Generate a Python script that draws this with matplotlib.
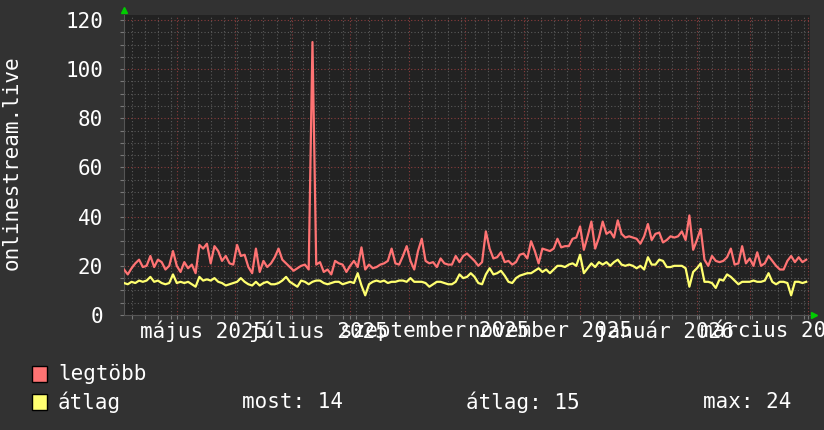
import pandas as pd
import matplotlib.pyplot as plt
import matplotlib.dates as mdates
from matplotlib.patches import Rectangle

# --- data (one point every 2 days) ---
start_date = '2025-04-03'
step_days = 2

legtobb = [
    18.5, 16.5, 19, 21, 22.5, 19.5, 20, 24, 19.5, 22.5, 21.5, 18.5, 20, 26, 20, 17.5,
    21.5, 19, 20.5, 17, 28.5, 27, 29, 21, 28, 26,
    22, 24, 21, 20.5, 28.5, 24, 24.5, 19.5, 17, 27, 17.5, 22, 19.5, 21, 23.5, 27,
    22.5, 21, 19.5, 18, 19, 20, 20.5, 18.5, 111, 20.5, 21.5,
    17.5, 18.5, 16.5, 22, 21, 20.5, 17.5, 20, 22, 19.5, 27.5, 18.5, 20.5, 19, 19.5,
    20.5, 21, 22, 27, 21, 20.5, 24, 28, 22, 18.5, 26,
    31, 22, 21, 21.5, 19.5, 23, 21, 20.5, 20.5, 24, 21.5, 24, 25, 23.5, 22, 20,
    21.5, 34, 27, 23, 23.5, 25.5, 21.5, 22, 20.5, 21.5, 24.5,
    25, 23, 30, 26, 21, 27, 26.5, 26, 27, 31, 27.5, 28, 28, 31, 31.5, 36, 26.5,
    32, 38, 27, 31.5, 38, 33, 34, 31.5, 38.5,
    33, 31.5, 32, 31.5, 31, 29, 32, 37, 30.5, 33, 33.5, 29.5, 30.5, 32, 31.5, 32,
    34, 30.5, 40.5, 26.5, 30.5, 35, 22.5, 20, 24, 22, 21.5,
    22, 23.5, 27, 20.5, 21, 28, 21, 23, 20, 25.5, 20, 21, 24, 22, 20, 18.5, 18.5,
    22, 24, 21.5, 23.5, 21.5, 22.5,
]

atlag = [
    13, 12.5, 13.5, 13, 14, 13.5, 14, 15.5, 13.5, 14, 13, 12.5, 13, 16.5, 13, 13.5,
    13, 13.5, 12.5, 11.5, 15.5, 14, 14.5, 14, 15, 13.5,
    13, 12, 12.5, 13, 13.5, 15, 13.5, 12.5, 12, 13.5, 12, 13, 13.5, 12.5, 12.5, 13,
    14, 15.5, 13.5, 12.5, 11.5, 14, 13.5, 12.5, 13.5, 14, 14,
    13, 12.5, 13, 13.5, 13.5, 12.5, 13, 13.5, 13, 17, 12, 8, 12.5, 13.5, 14, 13.5,
    14, 13, 13.5, 13.5, 14, 14, 13.5, 15, 13.5, 13.5,
    13.5, 13, 11.5, 12.5, 13.5, 13.5, 13, 12.5, 12.5, 13.5, 16.5, 15, 15.5, 17,
    15.5, 13, 12.5, 16.5, 19, 16.5, 17, 18, 16, 13.5, 13, 15, 16,
    16.5, 17, 17, 18, 19, 17.5, 18.5, 17, 18.5, 20, 20, 19.5, 20.5, 21, 20, 24.5,
    17, 19, 21, 19.5, 21.5, 20.5, 21.5, 20, 21.5, 22.5,
    20.5, 20, 20.5, 20, 19, 20, 18.5, 23.5, 20.5, 20.5, 22.5, 22, 19.5, 19.5, 20,
    20, 20, 19, 11.5, 17.5, 19, 21, 13.5, 13.5, 13, 11, 14.5,
    14, 16.5, 15.5, 14, 12.5, 13.5, 13.5, 13.5, 14, 13.5, 13.5, 14, 17, 13.5, 12.5,
    13.5, 13.5, 13, 8, 13.5, 13.5, 13, 13.5,
]

x_label_dates = ['2025-05-15', '2025-07-15', '2025-09-15', '2025-11-15', '2026-01-15', '2026-03-15']
x_label_texts = ['május 2025', 'július 2025', 'szeptember 2025', 'november 2025',
                 'január 2026', 'március 2026']
y_ticks = [0, 20, 40, 60, 80, 100, 120]

legend_names = ['legtöbb', 'átlag']
stat_texts = ['most: 14', 'átlag: 15', 'max: 24']

RED = '#ff7373'
YELLOW = '#ffff70'
MONO = 'DejaVu Sans Mono'


def plot_chart():
    dates = pd.date_range(start_date, periods=len(legtobb), freq=f'{step_days}D')

    W, H = 824, 430
    fig = plt.figure(figsize=(W / 100, H / 100), dpi=100, facecolor='#323232')
    # plot area in pixel terms: x 124..810, y 15..315
    ax = fig.add_axes([124 / W, 1 - 315 / H, 686 / W, 300 / H])
    ax.set_facecolor('#222222')

    ax.plot(dates, legtobb, color=RED, linewidth=1.6, zorder=3)
    ax.plot(dates, atlag, color=YELLOW, linewidth=1.6, zorder=4)

    ax.set_xlim(pd.Timestamp('2025-04-03'), pd.Timestamp('2026-04-02'))
    ax.set_ylim(0, 122)

    # grid like rrdtool: dotted gray minor, dotted red major
    ax.set_yticks(y_ticks)
    ax.set_yticks(range(0, 121, 5), minor=True)
    ax.xaxis.set_major_locator(mdates.MonthLocator())
    ax.xaxis.set_minor_locator(mdates.WeekdayLocator(byweekday=mdates.MO))
    ax.xaxis.set_major_formatter(plt.NullFormatter())
    ax.grid(which='minor', color='#5a5a5a', linestyle=(0, (1, 2)), linewidth=0.8)
    ax.grid(which='major', color='#8a3c3c', linestyle=(0, (1, 2)), linewidth=0.8)
    ax.set_axisbelow(True)

    ax.tick_params(which='both', colors='#777777', length=3, width=0.8)
    ax.tick_params(axis='y', which='major', labelcolor='white', labelsize=15, pad=12)
    for lbl in ax.get_yticklabels():
        lbl.set_family(MONO)

    for side in ['top', 'right']:
        ax.spines[side].set_visible(False)
    for side in ['left', 'bottom']:
        ax.spines[side].set_color('#555555')

    # month labels (centered mid-month, overlapping like the original)
    for d, t in zip(x_label_dates, x_label_texts):
        ax.text(pd.Timestamp(d), -16 / 300, t, transform=ax.get_xaxis_transform(),
                ha='center', va='center', color='white', fontsize=15, family=MONO,
                clip_on=False)

    fig.text(12 / W, 1 - 163 / H, 'onlinestream.live', rotation=90, color='white',
             fontsize=15, family=MONO, ha='center', va='center')

    # green arrows at axis ends
    ax.plot([0], [1.017], marker='^', color='#00cc00', markersize=5,
            transform=ax.transAxes, clip_on=False)
    ax.plot([1.006], [0], marker='>', color='#00cc00', markersize=5,
            transform=ax.transAxes, clip_on=False)

    # legend
    for i, (name, col) in enumerate(zip(legend_names, [RED, YELLOW])):
        yc = 374 + 28 * i
        fig.add_artist(Rectangle((32 / W, 1 - (yc + 8) / H), 15 / W, 16 / H,
                                 transform=fig.transFigure, facecolor=col,
                                 edgecolor='black', linewidth=1))
        fig.text(58 / W, 1 - yc / H, name, color='white', fontsize=15, family=MONO,
                 va='center', ha='left')
    for x, t in zip([242, 466, 703], stat_texts):
        fig.text(x / W, 1 - 402 / H, t, color='white', fontsize=15, family=MONO,
                 va='center', ha='left')

    fig.savefig('out.png', dpi=100, facecolor=fig.get_facecolor())


if __name__ == '__main__':
    plot_chart()
